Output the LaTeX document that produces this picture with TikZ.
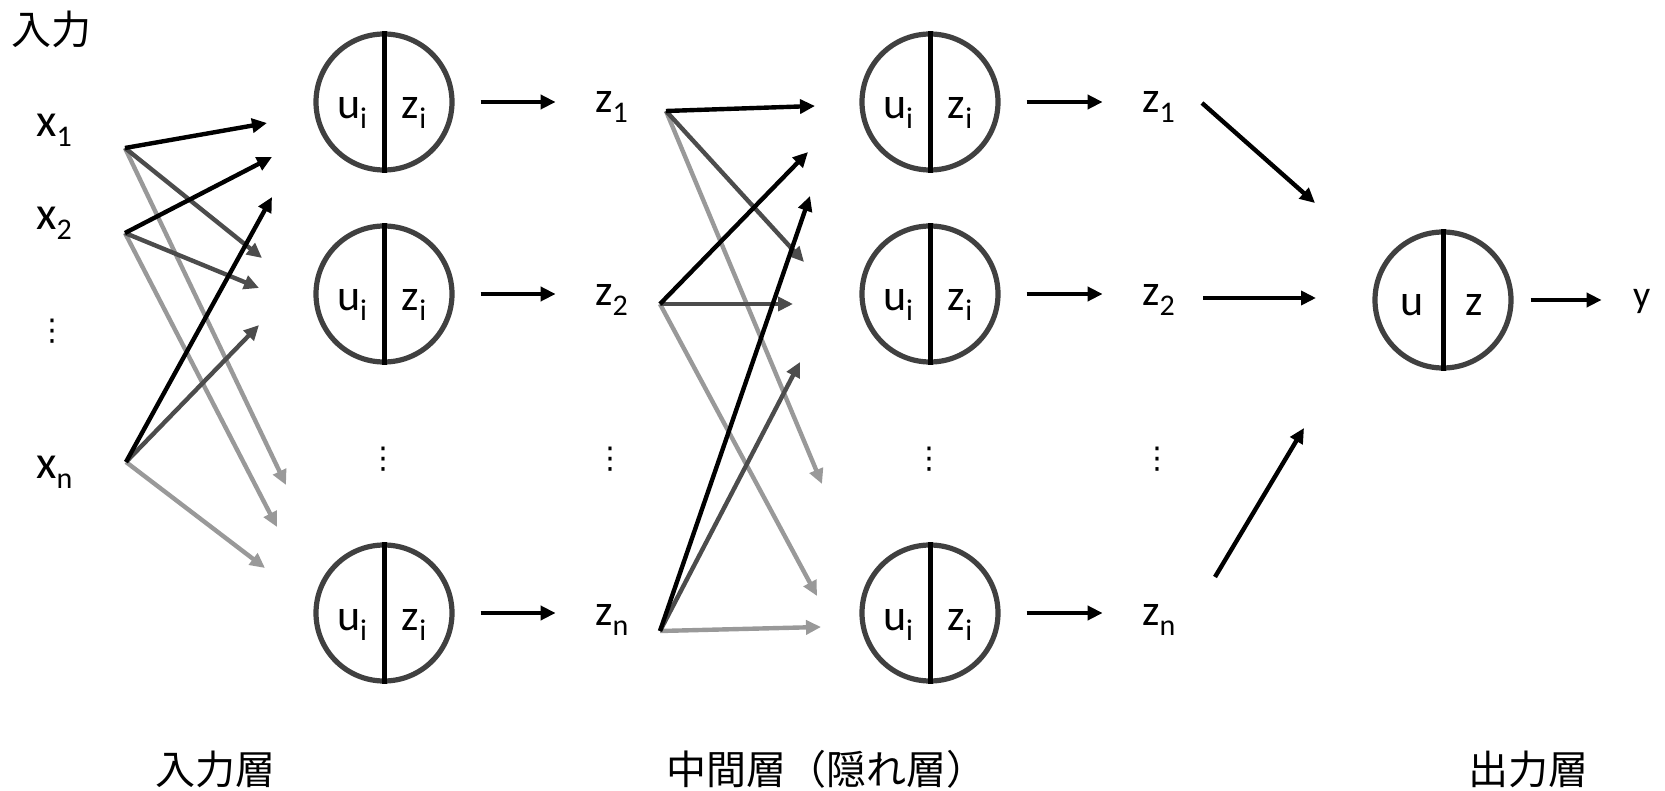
\documentclass[tikz,border=0pt]{standalone}
\usepackage{fontspec}
\setmainfont{Carlito}
\newfontfamily\jpfont{Noto Sans CJK JP}
\newfontfamily\dotsfont{DejaVu Sans}
\usetikzlibrary{arrows.meta,calc}
\colorlet{wtop}{black}
\colorlet{wmid}{black!70}
\colorlet{wlow}{black!40}
\newcommand\subtxt[1]{\raisebox{-10pt}{\fontsize{30}{32}\selectfont #1}}
\tikzset{
    every node/.style={font=\fontsize{44}{50}\selectfont,inner sep=0pt},
    neuron/.style={circle,draw=black!75,line width=5.2pt,minimum size=136pt},
    divider/.style={draw=black,line width=5pt},
    sym/.style={anchor=base},
    var/.style={anchor=base west},
    invar/.style={anchor=base west,font=\fontsize{47}{52}\selectfont},
    vdot/.style={font=\dotsfont\fontsize{30}{32}\selectfont},
    layer/.style={font=\jpfont\fontsize{40}{44}\selectfont},
    wire/.style={line width=4.4pt,-{Triangle[length=15pt,width=14pt]}}
}

\begin{document}
\begin{tikzpicture}[x=1pt,y=-1pt]
\useasboundingbox (0,0) rectangle (1665,791);

% neurons
\node[neuron] (h11) at (384,102) {};
\node[neuron] (h12) at (384,294) {};
\node[neuron] (h1n) at (384,613) {};
\node[neuron] (h21) at (930,102) {};
\node[neuron] (h22) at (930,294) {};
\node[neuron] (h2n) at (930,613) {};
\node[neuron] (out) at (1443,300) {};
\foreach \n in {h11,h12,h1n,h21,h22,h2n,out}
  \draw[divider] (\n.north) -- (\n.south);

\node[sym] (h11u) at ($(h11)+(-32,17)$) {u\subtxt{i}};
\node[sym] (h11z) at ($(h11)+(30,17)$) {z\subtxt{i}};
\node[sym] (h12u) at ($(h12)+(-32,17)$) {u\subtxt{i}};
\node[sym] (h12z) at ($(h12)+(30,17)$) {z\subtxt{i}};
\node[sym] (h1nu) at ($(h1n)+(-32,17)$) {u\subtxt{i}};
\node[sym] (h1nz) at ($(h1n)+(30,17)$) {z\subtxt{i}};
\node[sym] (h21u) at ($(h21)+(-32,17)$) {u\subtxt{i}};
\node[sym] (h21z) at ($(h21)+(30,17)$) {z\subtxt{i}};
\node[sym] (h22u) at ($(h22)+(-32,17)$) {u\subtxt{i}};
\node[sym] (h22z) at ($(h22)+(30,17)$) {z\subtxt{i}};
\node[sym] (h2nu) at ($(h2n)+(-32,17)$) {u\subtxt{i}};
\node[sym] (h2nz) at ($(h2n)+(30,17)$) {z\subtxt{i}};
\node[sym] (outu) at ($(out)+(-31,16)$) {u};
\node[sym] (outz) at ($(out)+(31,16)$) {z};

% inputs and outputs of each layer
\node[layer] (intitle) at (51,29) {入力};
\node[invar] (x1) at (36,137) {x\subtxt{1}};
\node[invar] (x2) at (36,230) {x\subtxt{2}};
\node[vdot] (xdots) at (52,331) {⋮};
\node[invar] (xn) at (36,478) {x\subtxt{n}};

\node[var] (z11) at (595,113) {z\subtxt{1}};
\node[var] (z12) at (595,306) {z\subtxt{2}};
\node[vdot] (z1dots) at (610,459) {⋮};
\node[var] (z1n) at (595,625) {z\subtxt{n}};
\node[vdot] (h1dots) at (383,459) {⋮};

\node[var] (z21) at (1142,113) {z\subtxt{1}};
\node[var] (z22) at (1142,306) {z\subtxt{2}};
\node[vdot] (z2dots) at (1157,459) {⋮};
\node[var] (z2n) at (1142,625) {z\subtxt{n}};
\node[vdot] (h2dots) at (929,459) {⋮};

\node[anchor=base west,font=\fontsize{38}{44}\selectfont] (y) at (1633,308) {y};

\node[layer] (lin) at (215,769) {入力層};
\node[layer] (lhid) at (826,769) {中間層（隠れ層）};
\node[layer] (lout) at (1528,769) {出力層};

% arrow ends
\coordinate (px1) at (125,148);
\coordinate (px2) at (125,233);
\coordinate (pxn) at (126,462);
\coordinate (t11a) at (267,123);
\coordinate (t11b) at (272,157);
\coordinate (t11c) at (272,197);
\coordinate (t12a) at (262,258);
\coordinate (t12b) at (259,288);
\coordinate (t12c) at (259,325);
\coordinate (t1na) at (286,485);
\coordinate (t1nb) at (277,527);
\coordinate (t1nc) at (265,568);

\coordinate (pz1) at (666,111);
\coordinate (pz2) at (660,304);
\coordinate (pzn) at (660,631);
\coordinate (t21a) at (815,106);
\coordinate (t21b) at (808,152);
\coordinate (t21c) at (810,196);
\coordinate (t22a) at (804,262);
\coordinate (t22b) at (793,304);
\coordinate (t22c) at (800,362);
\coordinate (t2na) at (822,484);
\coordinate (t2nb) at (817,596);
\coordinate (t2nc) at (821,627);

% weights, input -> hidden
\draw[wire,wlow] (px1) -- (t1na);
\draw[wire,wlow] (px2) -- (t1nb);
\draw[wire,wlow] (pxn) -- (t1nc);
\draw[wire,wmid] (px1) -- (t12a);
\draw[wire,wmid] (px2) -- (t12b);
\draw[wire,wmid] (pxn) -- (t12c);
\draw[wire,wtop] (px1) -- (t11a);
\draw[wire,wtop] (px2) -- (t11b);
\draw[wire,wtop] (pxn) -- (t11c);

% weights, hidden -> hidden
\draw[wire,wlow] (pz1) -- (t2na);
\draw[wire,wlow] (pz2) -- (t2nb);
\draw[wire,wlow] (pzn) -- (t2nc);
\draw[wire,wmid] (pz1) -- (t22a);
\draw[wire,wmid] (pz2) -- (t22b);
\draw[wire,wmid] (pzn) -- (t22c);
\draw[wire,wtop] (pz1) -- (t21a);
\draw[wire,wtop] (pz2) -- (t21b);
\draw[wire,wtop] (pzn) -- (t21c);

% neuron outputs
\draw[wire] ([xshift=26pt]h11.east) -- ++(75,0);
\draw[wire] ([xshift=26pt]h12.east) -- ++(75,0);
\draw[wire] ([xshift=26pt]h1n.east) -- ++(75,0);
\draw[wire] ([xshift=26pt]h21.east) -- ++(76,0);
\draw[wire] ([xshift=26pt]h22.east) -- ++(76,0);
\draw[wire] ([xshift=26pt]h2n.east) -- ++(76,0);
\draw[wire] ([xshift=17pt]out.east) -- ++(71,0);

% hidden -> output
\coordinate (q1) at (1202,103);
\coordinate (q2) at (1203,298);
\coordinate (qn) at (1215,577);
\draw[wire] (q1) -- (1315,203);
\draw[wire] (q2) -- (1316,298);
\draw[wire] (qn) -- (1304,428);
\end{tikzpicture}
\end{document}
